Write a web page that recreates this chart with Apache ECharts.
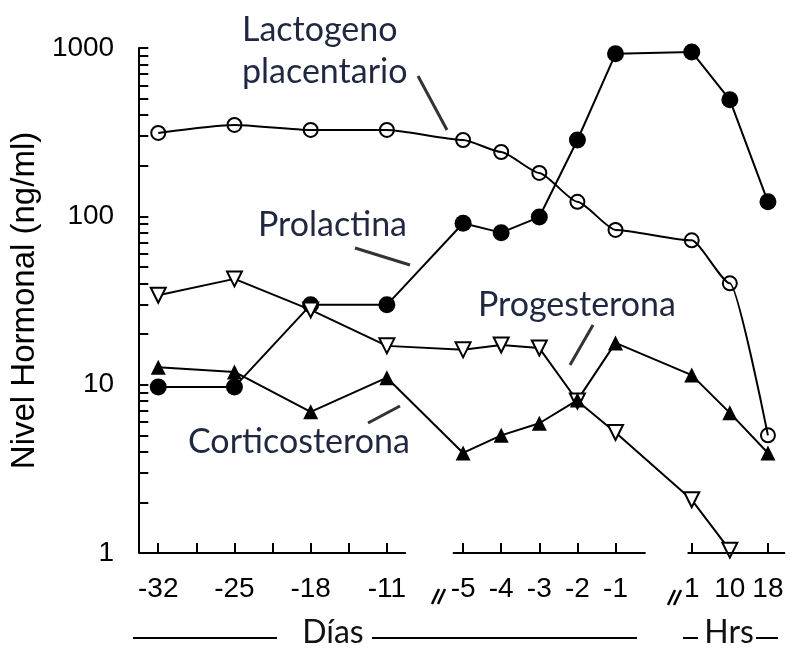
<!DOCTYPE html>
<html><head><meta charset="utf-8">
<script src="https://cdn.jsdelivr.net/npm/echarts@6/dist/echarts.min.js"></script>
<style>html,body{margin:0;padding:0;background:#fff}#c{width:791px;height:649px}</style>
</head><body><div id="c"></div>
<script>
// x positions (in axis units) and their tick labels
const xPositions = [0, 2, 4, 6, 8, 9, 10, 11, 12, 14, 15, 16];
const xLabels = ['-32', '-25', '-18', '-11', '-5', '-4', '-3', '-2', '-1', '1', '10', '18'];
// ng/ml
const lactogeno = [313, 349, 326, 326, 284, 241, 181, 122, 83, 72, 40, 5.0];
const prolactina = [9.7, 9.7, 29.8, 29.8, 91, 80, 99, 284, 923, 948, 492, 122];
const progesterona = [34, 42.5, 27.8, 17, 16.1, 17.2, 16.5, 8.0, 5.2, 2.07, 1.04, null];
const corticosterona = [12.7, 11.9, 6.9, 11, 3.93, 5.0, 5.9, 8.1, 17.7, 11.4, 6.8, 3.93];
const yLabelValues = [1, 10, 100, 1000];

const pair = arr => arr.map((v, i) => [xPositions[i], v]).filter(p => p[1] != null);
const tickX = [0,1,2,3,4,5,6,8,9,10,11,12,14,15,16];
const yTicks = [];
for (let d = 1; d <= 100; d *= 10) for (let k = 1; k <= 9; k++) yTicks.push(k * d);
yTicks.push(1000);

const X_MIN = -0.5, TICK_LEN_X = 0.24;
const chart = echarts.init(document.getElementById('c'));
const blk = '#000';
const annFont = '34px Lato';
const annCol = '#1f2840';
function seg(a, b) { return [{coord: [a, 1]}, {coord: [b, 1]}]; }
const yTickLines = yTicks.map(v => [{coord: [X_MIN, v]}, {coord: [X_MIN + TICK_LEN_X, v]}]);

chart.setOption({
  animation: false,
  backgroundColor: '#fff',
  grid: {left: 136, right: 4, top: 48, bottom: 96},
  xAxis: {
    type: 'value', min: X_MIN, max: 16.5,
    axisLine: {show: false, onZero: false},
    splitLine: {show: false},
    axisTick: {show: true, inside: true, length: 10, lineStyle: {color: blk, width: 2}, customValues: tickX},
    axisLabel: {
      customValues: xPositions, margin: 22,
      fontFamily: 'Liberation Sans', fontSize: 28, color: blk,
      formatter: v => xLabels[xPositions.indexOf(v)]
    }
  },
  yAxis: {
    type: 'log', logBase: 10, min: 1, max: 1000,
    name: 'Nivel Hormonal (ng/ml)', nameLocation: 'middle', nameGap: 95, nameRotate: 90,
    nameTextStyle: {fontFamily: 'Liberation Sans', fontSize: 33, color: blk},
    axisLine: {show: true, onZero: false, lineStyle: {color: blk, width: 2}},
    splitLine: {show: false},
    axisTick: {show: false},
    axisLabel: {customValues: yLabelValues, margin: 25, fontFamily: 'Liberation Sans', fontSize: 28, color: blk,
      formatter: v => String(v)}
  },
  series: [
    {
      name: 'axis', type: 'line', data: [], silent: true, clip: false,
      markLine: {symbol: 'none', silent: true, label: {show: false},
        lineStyle: {color: blk, width: 2, type: 'solid'},
        data: [seg(X_MIN, 6.5), seg(7.73, 12.79), seg(13.89, 16.45)].concat(yTickLines)}
    },
    {
      name: 'Lactogeno placentario', type: 'line', data: pair(lactogeno), smooth: 0.2, smoothMonotone: 'x',
      symbol: 'circle', symbolSize: 14,
      lineStyle: {color: blk, width: 2},
      itemStyle: {color: 'rgba(255,255,255,0)', borderColor: blk, borderWidth: 2}
    },
    {
      name: 'Prolactina', type: 'line', data: pair(prolactina),
      symbol: 'circle', symbolSize: 17,
      lineStyle: {color: blk, width: 2},
      itemStyle: {color: blk}
    },
    {
      name: 'Progesterona', type: 'line', data: pair(progesterona),
      symbol: 'triangle', symbolRotate: 180, symbolSize: 15,
      lineStyle: {color: blk, width: 2},
      itemStyle: {color: '#fff', borderColor: blk, borderWidth: 2}
    },
    {
      name: 'Corticosterona', type: 'line', data: pair(corticosterona),
      symbol: 'triangle', symbolSize: 15,
      lineStyle: {color: blk, width: 2},
      itemStyle: {color: blk}
    }
  ],
  graphic: [
    {type: 'text', style: {text: 'Lactogeno', x: 242, y: 30, font: annFont, fill: annCol, verticalAlign: 'middle'}},
    {type: 'text', style: {text: 'placentario', x: 242, y: 72, font: annFont, fill: annCol, verticalAlign: 'middle'}},
    {type: 'text', style: {text: 'Prolactina', x: 258, y: 225, font: annFont, fill: annCol, verticalAlign: 'middle'}},
    {type: 'text', style: {text: 'Progesterona', x: 478, y: 305, font: annFont, fill: annCol, verticalAlign: 'middle'}},
    {type: 'text', style: {text: 'Corticosterona', x: 188, y: 442, font: annFont, fill: annCol, verticalAlign: 'middle'}},
    {type: 'line', shape: {x1: 418, y1: 76, x2: 447, y2: 130}, style: {stroke: '#333', lineWidth: 3}},
    {type: 'line', shape: {x1: 355, y1: 248, x2: 410, y2: 265}, style: {stroke: '#333', lineWidth: 3}},
    {type: 'line', shape: {x1: 593, y1: 325, x2: 570, y2: 365}, style: {stroke: '#333', lineWidth: 3}},
    {type: 'line', shape: {x1: 368, y1: 423, x2: 400, y2: 406}, style: {stroke: '#333', lineWidth: 3}},
    // axis break marks
    {type: 'line', shape: {x1: 432, y1: 604, x2: 439, y2: 589}, style: {stroke: blk, lineWidth: 2.5}},
    {type: 'line', shape: {x1: 438, y1: 604, x2: 445, y2: 589}, style: {stroke: blk, lineWidth: 2.5}},
    {type: 'line', shape: {x1: 668, y1: 605, x2: 675, y2: 590}, style: {stroke: blk, lineWidth: 2.5}},
    {type: 'line', shape: {x1: 674, y1: 605, x2: 681, y2: 590}, style: {stroke: blk, lineWidth: 2.5}},
    // Días / Hrs
    {type: 'line', shape: {x1: 133, y1: 638, x2: 277, y2: 638}, style: {stroke: blk, lineWidth: 2}},
    {type: 'text', style: {text: 'Días', x: 333, y: 633, font: '32px Lato', fill: '#111', align: 'center', verticalAlign: 'middle'}},
    {type: 'line', shape: {x1: 372, y1: 638, x2: 637, y2: 638}, style: {stroke: blk, lineWidth: 2}},
    {type: 'line', shape: {x1: 683, y1: 638, x2: 698, y2: 638}, style: {stroke: blk, lineWidth: 2}},
    {type: 'text', style: {text: 'Hrs', x: 729, y: 633, font: '32px Lato', fill: '#111', align: 'center', verticalAlign: 'middle'}},
    {type: 'line', shape: {x1: 756, y1: 638, x2: 778, y2: 638}, style: {stroke: blk, lineWidth: 2}}
  ]
});
</script></body></html>
